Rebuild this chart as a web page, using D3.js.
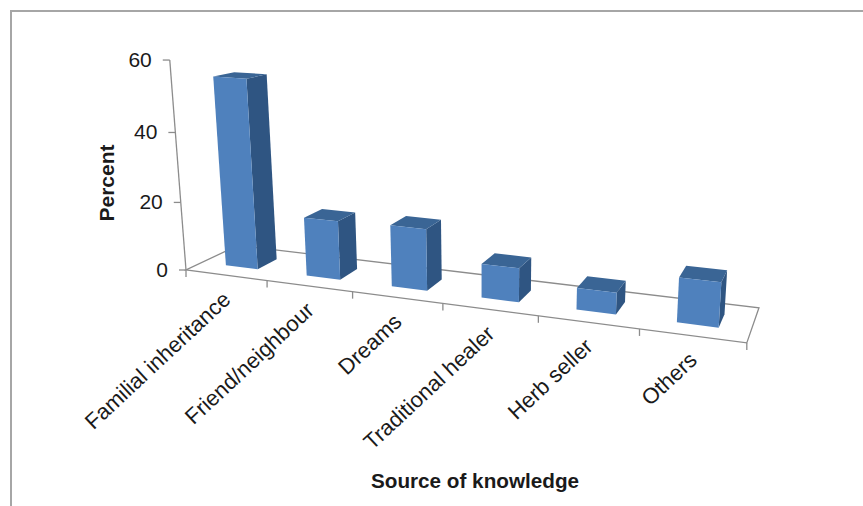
<!DOCTYPE html>
<html>
<head>
<meta charset="utf-8">
<script src="https://cdn.jsdelivr.net/npm/d3@7"></script>
<style>
  body { margin: 0; background: #fff; }
  svg { display: block; }
  text { font-family: "Liberation Sans", Arial, sans-serif; fill: #1a1a1a; }
</style>
</head>
<body>
<svg id="chart"></svg>
<script>
var categories = ["Familial inheritance", "Friend/neighbour", "Dreams", "Traditional healer", "Herb seller", "Others"]
var percents = [55, 17, 17.5, 9.5, 6, 12]
var yTicks = [0, 20, 40, 60]

var screen = { width: 863, height: 506 }

var svg = d3.select("#chart")
    .attr("width", screen.width)
    .attr("height", screen.height)

// category position along the floor, depth runs 0 (front) to 1 (back)
var xScale = d3.scaleBand()
    .domain(categories)
    .range([0, categories.length])
    .paddingInner(0.6)
    .paddingOuter(0.3)

var depth = { front: 0.3, back: 0.69 }

// perspective projection of (x, value, depth) on to the page
var project = function(x, v, z){
  var w = 1 - 0.0258*x - 0.000845*v + 0.08*z
  return [
    (186 + 74.2*x - 0.414*v + 71*z)/w,
    (270 + 3.3*x - 3.55*v - 5*z)/w
  ]
}

var line = d3.line()

// page frame
svg.append("path")
  .attr("d", line([[11, screen.height], [11, 11], [screen.width, 11]]))
  .attr("fill", "none")
  .attr("stroke", "#a6a6a6")
  .attr("stroke-width", 2)

var n = categories.length
var axisColor = "#8c8c8c"

var drawLine = function(pts){
  svg.append("path")
    .attr("d", line(pts))
    .attr("fill", "none")
    .attr("stroke", axisColor)
    .attr("stroke-width", 1.3)
}

// floor outline and axes
drawLine([project(0, 60, 0), project(0, 0, 0)])
drawLine([project(0, 0, 1), project(0, 0, 0), project(n, 0, 0), project(n, 0, 1), project(0, 0, 1)])

// y ticks
yTicks.forEach(function(d){
  var p = project(0, d, 0)
  drawLine([[p[0]-7, p[1]], p])
  svg.append("text")
    .attr("x", p[0]-18)
    .attr("y", p[1]+7)
    .attr("text-anchor", "end")
    .attr("font-size", 21)
    .text(d)
})

// x ticks
d3.range(n+1).forEach(function(i){
  var p = project(i, 0, 0)
  drawLine([p, [p[0], p[1]+7]])
})

// bars
var bars = svg.selectAll(".bar")
  .data(categories)
  .enter()
  .append("g")
  .attr("class", "bar")

var face = function(fn, color){
  bars.append("path")
    .attr("d", function(d, i){ return line(fn(xScale(d), xScale(d)+xScale.bandwidth(), percents[i])) + "Z" })
    .attr("fill", color)
}

// side
face(function(a, b, v){
  return [project(b, 0, depth.front), project(b, 0, depth.back), project(b, v, depth.back), project(b, v, depth.front)]
}, "#2f5582")
// top
face(function(a, b, v){
  return [project(a, v, depth.front), project(b, v, depth.front), project(b, v, depth.back), project(a, v, depth.back)]
}, "#3a6595")
// front
face(function(a, b, v){
  return [project(a, 0, depth.front), project(b, 0, depth.front), project(b, v, depth.front), project(a, v, depth.front)]
}, "#4f81bd")

// category labels
svg.selectAll(".cat")
  .data(categories)
  .enter()
  .append("text")
  .attr("class", "cat")
  .attr("text-anchor", "end")
  .attr("font-size", 22)
  .attr("transform", function(d){
    var p = project(xScale(d)+xScale.bandwidth()/2, 0, 0)
    return "translate("+(p[0]+6)+","+(p[1]+26)+") rotate(-43)"
  })
  .text(function(d){ return d })

// axis titles
svg.append("text")
  .attr("x", 475)
  .attr("y", 488)
  .attr("text-anchor", "middle")
  .attr("font-size", 20.7)
  .attr("font-weight", "bold")
  .text("Source of knowledge")

svg.append("text")
  .attr("transform", "translate(114,183) rotate(-90)")
  .attr("text-anchor", "middle")
  .attr("font-size", 21)
  .attr("font-weight", "bold")
  .text("Percent")
</script>
</body>
</html>
